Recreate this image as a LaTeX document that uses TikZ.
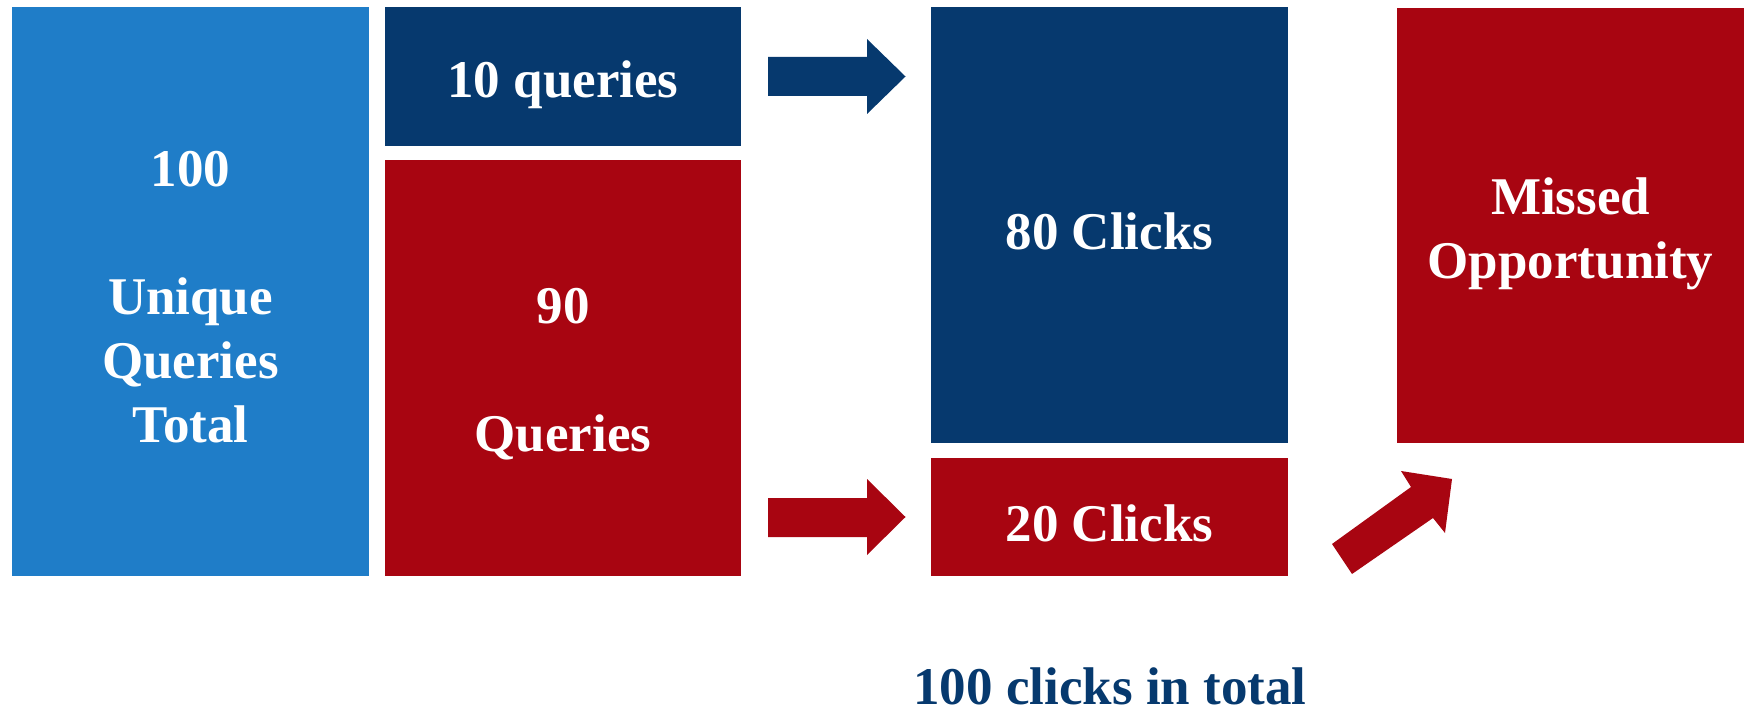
\documentclass[tikz,border=0pt]{standalone}
\usepackage{fontspec}
\setmainfont{Liberation Serif}
\definecolor{lblue}{HTML}{1F7DC8}
\definecolor{dblue}{HTML}{06396E}
\definecolor{dred}{HTML}{A80511}
\begin{document}
\begin{tikzpicture}[x=0.5pt,y=-0.5pt,
  box/.style={inner sep=0pt, draw=none, anchor=center},
  lbl/.style={inner sep=0pt, text=white, align=center, yshift=-3pt,
    font=\fontsize{26.5}{32}\selectfont\bfseries},
  blockarrow/.style={draw=none}]
\useasboundingbox (0,0) rectangle (1744,716);
% boxes
\node[box, fill=lblue, minimum width=178.5pt, minimum height=284.5pt,
  label={[lbl]center:{100\\[32pt]Unique\\Queries\\Total}}] (total) at (190.5,291.5) {};
\node[box, fill=dblue, minimum width=178pt, minimum height=69.5pt,
  label={[lbl, yshift=-1pt]center:{10 queries}}] (q10) at (563,76.5) {};
\node[box, fill=dred, minimum width=178pt, minimum height=208pt,
  label={[lbl]center:{90\\[32pt]Queries}}] (q90) at (563,368) {};
\node[box, fill=dblue, minimum width=178.5pt, minimum height=218pt,
  label={[lbl]center:{80 Clicks}}] (c80) at (1109.5,225) {};
\node[box, fill=dred, minimum width=178.5pt, minimum height=59pt,
  label={[lbl]center:{20 Clicks}}] (c20) at (1109.5,517) {};
\node[box, fill=dred, minimum width=173.5pt, minimum height=217.5pt,
  label={[lbl, yshift=-1pt]center:{Missed\\Opportunity}}] (missed) at (1570.5,225.5) {};
% block arrows
\fill[blockarrow, dblue] (768,57) -- (867,57) -- (867,39) -- (905.5,76.5) -- (867,114) -- (867,96) -- (768,96) -- cycle;
\fill[blockarrow, dred] (768,498) -- (867,498) -- (867,479) -- (905.5,517) -- (867,555) -- (867,537) -- (768,537) -- cycle;
\fill[blockarrow, dred] (1332,544) -- (1411,487) -- (1401,471) -- (1452,479) -- (1445,533) -- (1433,518) -- (1352,574) -- cycle;
% caption
\node[anchor=base, inner sep=0pt, text=dblue, font=\fontsize{26.5}{32}\selectfont\bfseries] (cap) at (1110,704) {100 clicks in total};
\end{tikzpicture}
\end{document}
